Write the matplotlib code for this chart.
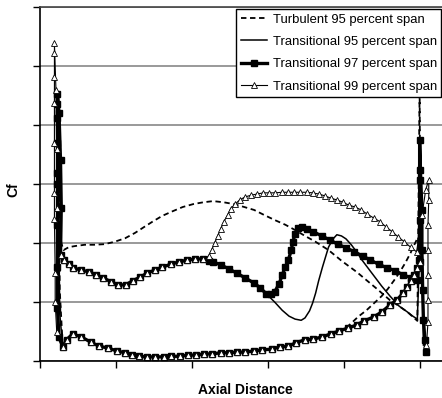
import numpy as np
import matplotlib.pyplot as plt

plt.rcParams['font.family'] = ['Liberation Sans', 'DejaVu Sans']

# pressure side of the transitional runs, leading edge -> trailing edge
ps_x = [0.30, 0.35, 0.43, 0.54, 0.67, 0.78, 0.90, 1.01, 1.12, 1.21,
        1.30, 1.41, 1.52, 1.63, 1.73, 1.84, 1.95, 2.06, 2.16, 2.27,
        2.38, 2.49, 2.59, 2.70, 2.82, 2.93, 3.05, 3.16, 3.27, 3.37,
        3.49, 3.60, 3.72, 3.83, 3.94, 4.06, 4.17, 4.27, 4.40, 4.50,
        4.61, 4.70, 4.78, 4.84, 4.89, 4.93, 4.97, 5.00]
ps_y = [0.24, 0.36, 0.46, 0.41, 0.32, 0.25, 0.22, 0.17, 0.14, 0.10,
        0.08, 0.07, 0.07, 0.07, 0.08, 0.08, 0.10, 0.10, 0.12, 0.12,
        0.14, 0.14, 0.15, 0.15, 0.17, 0.19, 0.20, 0.24, 0.25, 0.31,
        0.36, 0.37, 0.41, 0.46, 0.51, 0.56, 0.61, 0.68, 0.75, 0.83,
        0.95, 1.03, 1.15, 1.25, 1.36, 1.46, 1.58, 1.68]

# laminar suction side shared by all transitional runs
lam_x = [0.27, 0.32, 0.38, 0.44, 0.54, 0.65, 0.74, 0.83, 0.94, 1.03,
         1.13, 1.22, 1.32, 1.41, 1.51, 1.61, 1.72, 1.83, 1.94, 2.04, 2.15]
lam_y = [1.80, 1.71, 1.64, 1.58, 1.54, 1.51, 1.46, 1.41, 1.34, 1.29,
         1.29, 1.36, 1.42, 1.49, 1.54, 1.59, 1.64, 1.68, 1.71, 1.73, 1.73]

# laminar run-down of the 95 and 97 percent span runs
dec_x = [2.22, 2.28, 2.38, 2.49, 2.59, 2.70, 2.82, 2.90, 2.98]
dec_y = [1.69, 1.68, 1.63, 1.56, 1.49, 1.41, 1.32, 1.24, 1.14]

# transitional 99: transition and turbulent part
t99_x = [2.22, 2.26, 2.30, 2.34, 2.38, 2.42, 2.47, 2.51, 2.57, 2.63,
         2.70, 2.78, 2.86, 2.94, 3.02, 3.10, 3.19, 3.27, 3.35, 3.43,
         3.51, 3.59, 3.67, 3.75, 3.83, 3.91, 3.99, 4.07, 4.15, 4.23,
         4.31, 4.40, 4.48, 4.56, 4.64, 4.72, 4.80, 4.88, 4.96]
t99_y = [1.78, 1.88, 2.00, 2.12, 2.24, 2.36, 2.47, 2.58, 2.66, 2.73,
         2.78, 2.81, 2.83, 2.85, 2.85, 2.85, 2.86, 2.86, 2.86, 2.86,
         2.86, 2.85, 2.83, 2.80, 2.76, 2.73, 2.69, 2.64, 2.61, 2.56,
         2.49, 2.42, 2.36, 2.27, 2.19, 2.10, 2.02, 1.93, 1.85]
le99_x = [0.22, 0.20, 0.20, 0.19, 0.19, 0.19, 0.19, 0.19, 0.19, 0.19, 0.21, 0.22, 0.23]
le99_y = [0.50, 1.00, 1.50, 2.40, 2.85, 3.70, 4.37, 4.81, 5.22, 5.39, 4.60, 3.60, 2.60]
te99_x = [5.03, 5.08, 5.12, 5.12, 5.11, 5.11, 5.11, 5.11, 5.11, 5.09]
te99_y = [2.47, 2.90, 3.07, 2.73, 2.31, 1.88, 1.46, 1.03, 0.66, 0.27]

# transitional 97
t97_x = [3.04, 3.09, 3.15, 3.19, 3.23, 3.27, 3.31, 3.33, 3.36, 3.40,
         3.45, 3.51, 3.60, 3.71, 3.82, 3.92, 4.03, 4.14, 4.25, 4.35,
         4.46, 4.57, 4.68, 4.78, 4.89, 4.97]
t97_y = [1.14, 1.17, 1.31, 1.46, 1.59, 1.71, 1.88, 2.02, 2.15, 2.25,
         2.27, 2.24, 2.19, 2.12, 2.05, 1.98, 1.92, 1.85, 1.78, 1.71,
         1.64, 1.58, 1.53, 1.46, 1.41, 1.37]
le97_x = [0.25, 0.23, 0.23, 0.23, 0.23, 0.23, 0.23, 0.23, 0.23, 0.23, 0.25, 0.27, 0.28]
le97_y = [0.40, 0.90, 1.60, 2.30, 3.00, 3.19, 3.69, 4.12, 4.36, 4.53, 4.20, 3.40, 2.60]
te97_x = [4.99, 5.00, 5.00, 5.00, 5.01, 5.03, 5.03, 5.04, 5.05, 5.07, 5.08]
te97_y = [1.71, 2.39, 3.07, 3.75, 3.24, 2.56, 1.88, 1.20, 0.69, 0.36, 0.15]

# transitional 95
t95_x = [3.09, 3.19, 3.28, 3.36, 3.44, 3.49, 3.55, 3.59, 3.63, 3.67,
         3.72, 3.76, 3.80, 3.86, 3.91, 3.97, 4.03, 4.10, 4.17, 4.23,
         4.30, 4.40, 4.50, 4.61, 4.73, 4.84, 4.91, 4.97]
t95_y = [1.00, 0.86, 0.76, 0.71, 0.69, 0.73, 0.85, 0.98, 1.15, 1.36,
         1.59, 1.76, 1.93, 2.07, 2.14, 2.12, 2.07, 1.97, 1.85, 1.73,
         1.61, 1.44, 1.27, 1.10, 0.93, 0.83, 0.76, 0.71]
le95_x = [0.26, 0.25, 0.25, 0.25, 0.27, 0.28]
le95_y = [0.80, 2.00, 3.00, 4.00, 3.00, 2.20]
te95_x = [5.00, 5.01, 5.03, 5.04, 5.05]
te95_y = [1.88, 3.58, 2.20, 1.03, 0.27]

# turbulent 95
tu_ss_x = [0.31, 0.38, 0.47, 0.59, 0.71, 0.85, 0.98, 1.12, 1.25, 1.37,
           1.48, 1.61, 1.75, 1.88, 2.02, 2.15, 2.28, 2.42, 2.55, 2.69,
           2.82, 2.96, 3.09, 3.23, 3.36, 3.49, 3.63, 3.80, 3.98, 4.17,
           4.30, 4.44, 4.61, 4.73, 4.84, 4.97]
tu_ss_y = [1.88, 1.93, 1.95, 1.97, 1.97, 1.98, 2.02, 2.08, 2.17, 2.27,
           2.36, 2.46, 2.54, 2.61, 2.66, 2.69, 2.71, 2.69, 2.66, 2.61,
           2.56, 2.47, 2.39, 2.31, 2.22, 2.12, 2.02, 1.88, 1.69, 1.51,
           1.37, 1.22, 1.03, 0.93, 0.83, 0.68]
tu_ps_x = [3.63, 3.76, 3.90, 4.01, 4.10, 4.19, 4.30, 4.40, 4.50, 4.58,
           4.66, 4.74, 4.81, 4.88, 4.93, 4.96]
tu_ps_y = [0.39, 0.42, 0.47, 0.54, 0.64, 0.75, 0.86, 0.98, 1.10, 1.22,
           1.36, 1.51, 1.66, 1.83, 1.97, 2.05]
le_tu_x = [0.26, 0.25, 0.28]
le_tu_y = [1.20, 3.30, 2.00]
te_tu_x = [5.00, 5.01]
te_tu_y = [4.60, 1.90]


def loop(ps_xs, ps_ys, *parts):
    # pressure side run backwards to the leading edge, then the rest in order
    xs = list(ps_xs[::-1])
    ys = list(ps_ys[::-1])
    for px, py in parts:
        xs += list(px)
        ys += list(py)
    return np.array(xs), np.array(ys)


x_tu, y_tu = loop(ps_x[:31] + tu_ps_x, ps_y[:31] + tu_ps_y,
                  (le_tu_x, le_tu_y), (tu_ss_x, tu_ss_y), (te_tu_x, te_tu_y))
x95, y95 = loop(ps_x, ps_y, (le95_x, le95_y), (lam_x, lam_y), (dec_x, dec_y),
                (t95_x, t95_y), (te95_x, te95_y))
x97, y97 = loop(ps_x, ps_y, (le97_x, le97_y), (lam_x, lam_y), (dec_x, dec_y),
                (t97_x, t97_y), (te97_x, te97_y))
x99, y99 = loop(ps_x, ps_y, (le99_x, le99_y), (lam_x, lam_y),
                (t99_x, t99_y), (te99_x, te99_y))

fig = plt.figure(figsize=(4.42, 3.98), dpi=100)
ax = fig.add_axes([40 / 442, 37 / 398, 410 / 442, 354 / 398])

ax.plot(x_tu, y_tu, color='black', lw=1.3, ls=(0, (3, 2)),
        label='Turbulent 95 percent span')
ax.plot(x95, y95, color='black', lw=1.1, label='Transitional 95 percent span')
ax.plot(x97, y97, color='black', lw=2.4, marker='s', ms=4,
        label='Transitional 97 percent span')
ax.plot(x99, y99, color='black', lw=0.8, marker='^', ms=4.5, mfc='white',
        mec='black', mew=0.6, label='Transitional 99 percent span')

ax.set_xlim(0, 5.4)
ax.set_ylim(0, 6)
ax.set_xticks(np.arange(0, 6))
ax.set_yticks(np.arange(0, 7))
ax.tick_params(direction='out', length=5, width=1, labelbottom=False,
               labelleft=False)
ax.grid(axis='y', color='#888888', lw=1.2)
ax.set_axisbelow(True)
for side in ('left', 'bottom', 'top'):
    ax.spines[side].set_linewidth(1.2)
ax.spines['top'].set_color('#444444')
ax.spines['right'].set_visible(False)

ax.set_xlabel('Axial Distance', fontsize=10, fontweight='bold')
ax.xaxis.set_label_coords(205 / 410, -22 / 354)
ax.set_ylabel('Cf', fontsize=10, fontweight='bold')
ax.yaxis.set_label_coords(-20 / 410, 0.485)

leg = ax.legend(loc='upper left', bbox_to_anchor=(236 / 442, 1 - 9 / 398),
                bbox_transform=fig.transFigure, borderaxespad=0, fontsize=9.4,
                frameon=True, fancybox=False, edgecolor='black',
                framealpha=1, labelspacing=0.78, handlelength=2.0,
                handletextpad=0.45, borderpad=0.35)
leg.get_frame().set_linewidth(1.0)

fig.savefig('out.png', dpi=100)
